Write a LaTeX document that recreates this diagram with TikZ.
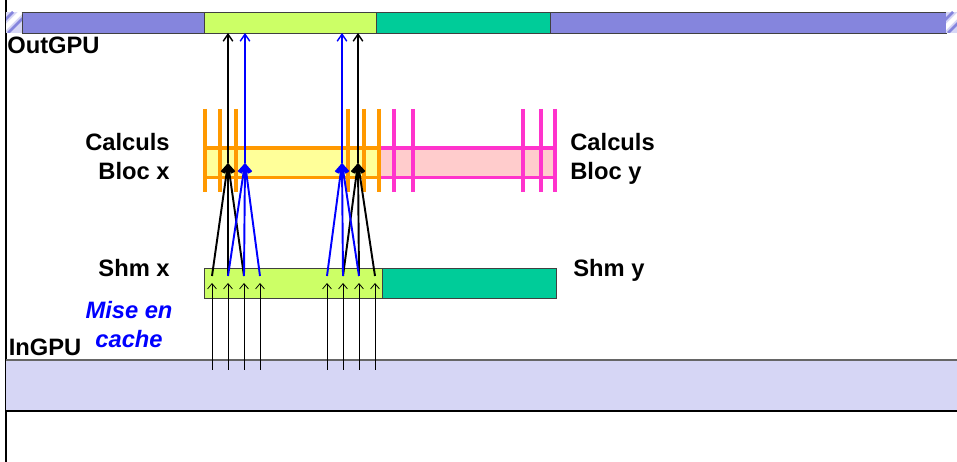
\documentclass[tikz,border=0pt]{standalone}
\usepackage{fontspec}
\setmainfont{Liberation Sans}
\usepackage{xcolor}
\definecolor{gpupurple}{HTML}{8585DD}
\definecolor{gpulight}{HTML}{D6D6F5}
\definecolor{shmgreen}{HTML}{CCFF66}
\definecolor{shmteal}{HTML}{00CC99}
\definecolor{calcyellow}{HTML}{FFFF99}
\definecolor{calcpink}{HTML}{FFCCCC}
\definecolor{calcorange}{HTML}{FF9900}
\definecolor{calcmagenta}{HTML}{FF33CC}
\definecolor{cacheblue}{HTML}{0000FF}
\usepackage{tikz}
\usetikzlibrary{arrows.meta,positioning}

\tikzset{
  segbar/.style={draw=black!75, line width=0.5pt},
  calcline/.style={line width=1.9pt},
  calctick/.style={line width=2.3pt},
  loadarrow/.style={-{Straight Barb[length=3pt,width=5pt]}, line width=0.45pt},
  calcarrow/.style={-{Straight Barb[length=4.5pt,width=6pt]}, line width=1.1pt},
  outarrow/.style={-{Straight Barb[length=4pt,width=5.5pt]}, line width=0.8pt}
}

\begin{document}
\begin{tikzpicture}[x=0.02cm, y=-0.02cm, every node/.style={inner sep=0pt},
    font=\fontsize{13.5}{16.5}\selectfont\bfseries]
  \useasboundingbox (0,0) rectangle (957,462);
  \draw[line width=1.2pt] (6,0) -- (6,462);

  % OutGPU
  \draw[segbar,fill=gpupurple] (22,12) rectangle (946,33);
  \draw[segbar,fill=shmgreen] (204,12) rectangle (376,33);
  \draw[segbar,fill=shmteal] (376,12) rectangle (550,33);
  \foreach \a/\b in {6/22,946/957} {
    \fill[gpulight] (\a,12) rectangle (\b,33);
    \begin{scope}
      \clip (\a,12) rectangle (\b,33);
      \draw[white,line width=2.5pt] (\a-6,33) -- (\a+15,12);
      \draw[gpupurple,line width=1.5pt] (\a-14,33) -- (\a+7,12);
      \draw[gpupurple,line width=1.5pt] (\a+2,33) -- (\a+23,12);
    \end{scope}
  }
  \node[anchor=base west] (outgpu) at (7,54) {OutGPU};

  % Calculs
  \fill[calcyellow] (205,148) rectangle (379,178);
  \fill[calcpink] (380,148) rectangle (555,178);
  \foreach \y in {148,177.5} {
    \draw[calcline,calcorange] (205,\y) -- (379,\y);
    \draw[calcline,calcmagenta] (380,\y) -- (555,\y);
  }
  \foreach \x in {205,220,236,348,364,379}
    \draw[calctick,calcorange] (\x,109) -- (\x,192);
  \foreach \x in {394,413,523,541,555}
    \draw[calctick,calcmagenta] (\x,109) -- (\x,192);
  \node[anchor=north east, align=right] (calcx) at (170,133) {Calculs\\Bloc x};
  \node[anchor=north west, align=left] (calcy) at (570,133) {Calculs\\Bloc y};

  % Shm
  \draw[segbar,fill=shmgreen] (204,268) rectangle (382,298);
  \draw[segbar,fill=shmteal] (382,268) rectangle (556,298);
  \node[anchor=base east] (shmx) at (170,277) {Shm x};
  \node[anchor=base west] (shmy) at (573,277) {Shm y};
  \node[anchor=north, align=center, text=cacheblue, font=\fontsize{13.5}{16.5}\selectfont\bfseries\itshape]
    (cache) at (129,301) {Mise en\\cache};

  % InGPU
  \fill[gpulight] (6,360) rectangle (957,411);
  \draw[black!60, line width=1pt] (6,360) -- (957,360);
  \draw[line width=0.6pt] (6,411) -- (957,411);
  \node[anchor=base west] (ingpu) at (8.5,356) {InGPU};

  % fleches
  \foreach \x [count=\i] in {212,228,244,260,327,343,359,375} {
    \coordinate (in\i) at (\x,370);
    \coordinate (sh\i) at (\x,283);
    \coordinate (up\i) at (\x,276);
  }
  \foreach \x/\n in {228/1,245/2,342/3,358/4} {
    \coordinate (cb\n) at (\x,163);
    \coordinate (og\n) at (\x,33);
  }
  \foreach \i in {1,...,8}
    \draw[loadarrow] (in\i) -- (sh\i);
  \foreach \s/\t in {1/1,2/1,3/1,6/4,7/4,8/4}
    \draw[calcarrow] (up\s) -- (cb\t);
  \foreach \s/\t in {2/2,3/2,4/2,5/3,6/3,7/3}
    \draw[calcarrow,cacheblue] (up\s) -- (cb\t);
  \foreach \n/\c in {1/black,2/cacheblue,3/cacheblue,4/black}
    \draw[outarrow,\c] (cb\n) -- (og\n);
\end{tikzpicture}
\end{document}
